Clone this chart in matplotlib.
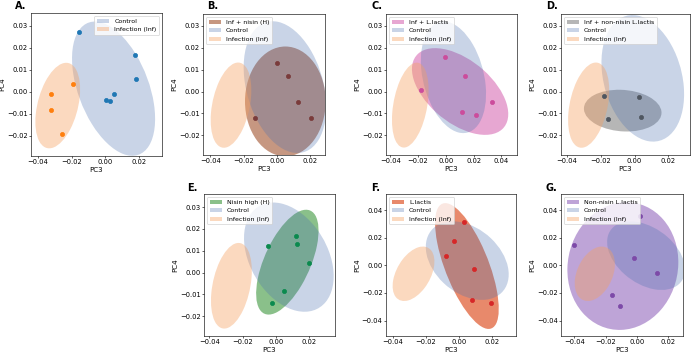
import numpy as np
import matplotlib
matplotlib.use("Agg")
import matplotlib.pyplot as plt
from matplotlib.patches import Ellipse, Patch
import matplotlib.transforms as transforms

# panel order: A, B, C, D, E, F, G
panel_labels = ["A.", "B.", "C.", "D.", "E.", "F.", "G."]
group_names = [None, "Inf + nisin (H)", "Inf + L.lactis", "Inf + non-nisin L.lactis",
               "Nisin high (H)", "L.lactis", "Non-nisin L.lactis"]

# points shown in panel A
ctrl_pc3 = [-0.0158, 0.0176, 0.0182, 0.0051, 0.0030, 0.0004]
ctrl_pc4 = [0.0274, 0.0167, 0.0059, -0.0012, -0.0040, -0.0038]
inf_pc3 = [-0.0323, -0.0323, -0.0190, -0.0259]
inf_pc4 = [-0.0009, -0.0082, 0.0036, -0.0193]

# treatment group points, panels B..G
grp_pc3 = [
    [0.0002, 0.0064, 0.0128, 0.0206, -0.0130],
    [-0.0182, -0.0005, 0.0139, 0.0330, 0.0115, 0.0218],
    [-0.0182, 0.0024, 0.0038, -0.0156],
    [-0.0048, 0.0123, 0.0125, 0.0197, 0.0050, -0.0026],
    [0.0032, -0.0030, -0.0080, 0.0092, 0.0078, 0.0192],
    [-0.0404, 0.0022, -0.0019, 0.0127, -0.0159, -0.0105],
]
grp_pc4 = [
    [0.0129, 0.0070, -0.0047, -0.0121, -0.0120],
    [0.0005, 0.0157, 0.0070, -0.0050, -0.0094, -0.0109],
    [-0.0021, -0.0026, -0.0115, -0.0126],
    [0.0120, 0.0168, 0.0130, 0.0046, -0.0082, -0.0140],
    [0.0315, 0.0175, 0.0064, -0.0025, -0.0250, -0.0272],
    [0.0146, 0.0356, 0.0054, -0.0052, -0.0214, -0.0291],
]

# confidence ellipses: (mean pc3, mean pc4, spread pc3, spread pc4, correlation)
ctrl_ell = [
    (0.0049, 0.0014, 0.0247, 0.0306, -0.45),
    (0.0048, 0.0020, 0.0248, 0.0300, -0.30),
    (0.0055, 0.0065, 0.0235, 0.0255, -0.30),
    (0.0049, 0.0060, 0.0245, 0.0288, -0.25),
    (0.0078, 0.0071, 0.0270, 0.0250, -0.35),
    (0.0050, 0.0034, 0.0250, 0.0284, -0.35),
    (0.0060, 0.0070, 0.0250, 0.0248, -0.40),
]
inf_ell = [
    (-0.0283, -0.0063, 0.0133, 0.0195, 0.38),
    (-0.0276, -0.0062, 0.0122, 0.0194, 0.35),
    (-0.0256, -0.0062, 0.0132, 0.0194, 0.35),
    (-0.0272, -0.0062, 0.0122, 0.0194, 0.35),
    (-0.0268, -0.0060, 0.0123, 0.0196, 0.35),
    (-0.0274, -0.0061, 0.0126, 0.0197, 0.45),
    (-0.0269, -0.0061, 0.0129, 0.0197, 0.35),
]
grp_ell = [
    (0.0050, -0.0045, 0.0242, 0.0250, 0.0),
    (0.0103, 0.0000, 0.0347, 0.0198, -0.52),
    (-0.0070, -0.0087, 0.0230, 0.0095, -0.10),
    (0.0069, 0.0048, 0.0188, 0.0240, 0.60),
    (0.0048, -0.0005, 0.0192, 0.0455, -0.68),
    (-0.0089, -0.0005, 0.0356, 0.0462, 0.06),
]

xlims = [(-0.0442, 0.0337), (-0.0444, 0.0288), (-0.0431, 0.0513), (-0.0436, 0.0329),
         (-0.0433, 0.0356), (-0.0440, 0.0344), (-0.0486, 0.0297)]
ylims = [(-0.0293, 0.0359), (-0.0289, 0.0353), (-0.0290, 0.0354), (-0.0289, 0.0353),
         (-0.0290, 0.0360), (-0.0511, 0.0516), (-0.0511, 0.0516)]

grp_fill = ["#a0522d", "#d45fae", "#7a7a7a", "#3c963c", "#dd4a1c", "#9467bd"]
grp_alpha = [0.6, 0.55, 0.55, 0.6, 0.65, 0.6]
grp_dot = ["#7a3b3b", "#cc4c9c", "#4f5660", "#0b8a4e", "#d62728", "#7d4aa8"]
ctrl_fill, ctrl_alpha = "#4c72b0", 0.3
inf_fill, inf_alpha = "#f5a061", 0.4

# axes boxes in pixels: left, right, top, bottom
W, H = 692, 354
boxes = [(31, 162, 13, 156), (203, 325, 14, 155), (386, 517, 14, 155), (561, 690, 14, 155),
         (204, 335, 194, 336), (386, 516, 194, 336), (561, 683, 194, 336)]
label_pos = [(15, 1), (207, 1), (372, 1), (546, 1), (187, 183), (371, 183), (545, 183)]

plt.rcParams.update({
    "xtick.labelsize": 9, "ytick.labelsize": 9,
    "xtick.major.size": 2.5, "ytick.major.size": 2.5,
    "xtick.major.pad": 2, "ytick.major.pad": 2,
    "axes.labelsize": 9.5, "axes.labelpad": 2,
})


def add_ellipse(ax, ell, color, alpha):
    cx, cy, sx, sy, r = ell
    e = Ellipse((0, 0), width=2 * np.sqrt(1 + r), height=2 * np.sqrt(1 - r),
                facecolor=color, alpha=alpha, edgecolor="none")
    tr = transforms.Affine2D().rotate_deg(45).scale(sx, sy).translate(cx, cy)
    e.set_transform(tr + ax.transData)
    ax.add_patch(e)


fig = plt.figure(figsize=(W / 54, H / 54), dpi=54)

for i in range(7):
    l, r, t, b = boxes[i]
    ax = fig.add_axes([l / W, 1 - b / H, (r - l) / W, (b - t) / H])
    handles = []
    if i > 0:
        add_ellipse(ax, grp_ell[i - 1], grp_fill[i - 1], grp_alpha[i - 1])
        handles.append(Patch(facecolor=grp_fill[i - 1], alpha=grp_alpha[i - 1],
                             label=group_names[i]))
    add_ellipse(ax, ctrl_ell[i], ctrl_fill, ctrl_alpha)
    add_ellipse(ax, inf_ell[i], inf_fill, inf_alpha)
    handles.append(Patch(facecolor=ctrl_fill, alpha=ctrl_alpha, label="Control"))
    handles.append(Patch(facecolor=inf_fill, alpha=inf_alpha, label="Infection (Inf)"))

    if i == 0:
        ax.scatter(ctrl_pc3, ctrl_pc4, color="#1f77b4", s=30, zorder=3)
        ax.scatter(inf_pc3, inf_pc4, color="#ff7f0e", s=30, zorder=3)
        ax.legend(handles=handles, loc="upper right", fontsize=8.3)
    else:
        ax.scatter(grp_pc3[i - 1], grp_pc4[i - 1], color=grp_dot[i - 1], s=30, zorder=3)
        ax.legend(handles=handles, loc="upper left", fontsize=8.3)

    ax.set_xlim(*xlims[i])
    ax.set_ylim(*ylims[i])
    ax.set_xlabel("PC3")
    ax.set_ylabel("PC4")
    lx, ly = label_pos[i]
    fig.text(lx / W, 1 - ly / H, panel_labels[i], fontsize=13, fontweight="bold",
             va="top", ha="left")

fig.savefig("out.png", dpi=54)
